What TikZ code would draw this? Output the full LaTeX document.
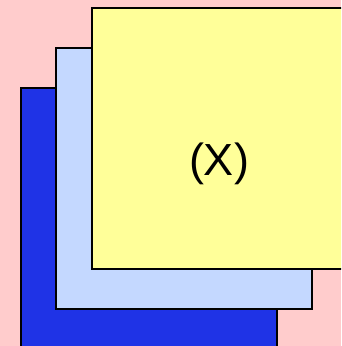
\documentclass[tikz,border=0pt]{standalone}
\usepackage{fontspec}
\setmainfont{Liberation Sans}
\usetikzlibrary{positioning}

\definecolor{bgpink}{RGB}{255,204,204}
\definecolor{deepblue}{RGB}{31,51,230}
\definecolor{paleblue}{RGB}{196,216,255}
\definecolor{paleyellow}{RGB}{255,255,153}

\begin{document}
\begin{tikzpicture}[
    x=1pt, y=-1pt,
    sheet/.style={rectangle, draw=black, line width=1.6pt, minimum width=256pt, minimum height=261pt, anchor=north west, inner sep=0pt},
    caption/.style={font=\fontsize{45}{50}\selectfont}
]

\useasboundingbox (0,0) rectangle (341,346);
\clip (0,0) rectangle (341,346);
\fill [bgpink] (0,0) rectangle (341,346);

\node (back) [sheet, fill=deepblue] at (20,87) {};
\node (middle) [sheet, fill=paleblue] at (55,47) {};
\node (front) [sheet, fill=paleyellow] at (91,7) {};
\node (tag) [caption] at (219,164) {(X)};

\end{tikzpicture}
\end{document}
